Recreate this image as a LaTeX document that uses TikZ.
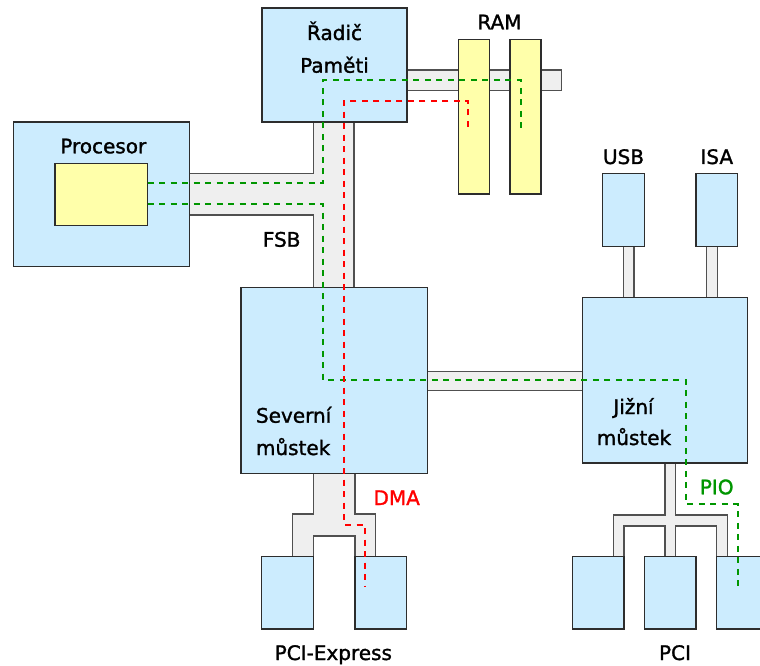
\documentclass[tikz,border=0pt]{standalone}
\usepackage{fontspec}
\setmainfont{DejaVu Sans}[FakeBold=1.4]
\definecolor{boxblue}{RGB}{204,236,254}
\definecolor{busgray}{RGB}{239,239,239}
\definecolor{chipyellow}{RGB}{255,255,170}
\definecolor{edgedark}{RGB}{45,45,45}
\definecolor{busedge}{RGB}{80,80,80}
\definecolor{piogreen}{RGB}{0,150,0}
\definecolor{dmared}{RGB}{255,0,0}
\tikzset{
  unit/.style={draw=edgedark, fill=boxblue, line width=1.4pt, inner sep=0pt, outer sep=0pt},
  chip/.style={draw=edgedark, fill=chipyellow, line width=1.4pt, inner sep=0pt, outer sep=0pt},
  bus/.style={draw=busedge, fill=busgray, line width=1.1pt, line join=miter},
  lbl/.style={inner sep=0pt, outer sep=0pt, font=\fontsize{20}{24}\selectfont},
  flow/.style={line width=2pt, dash pattern=on 6pt off 5.5pt},
}
\begin{document}
\begin{tikzpicture}[x=1pt, y=-1pt]
\clip (0,0) rectangle (760,666);
\fill[white] (0,0) rectangle (760,666);

% ---- buses (drawn first, units sit on top) ----
% FSB: CPU -> memory controller -> north bridge
\draw[bus] (313.3,122) -- (354,122) -- (354,287.3) -- (313.3,287.3)
  -- (313.3,215) -- (189.3,215) -- (189.3,173.3) -- (313.3,173.3) -- cycle;
% memory bus
\draw[bus] (407,70) rectangle (561.7,90.7);
% north bridge <-> south bridge
\draw[bus] (427.3,371.7) rectangle (582.3,390.7);
% USB and ISA links
\draw[bus] (623.3,246.7) rectangle (634,297.5);
\draw[bus] (706.7,246.7) rectangle (717.3,297.5);
% PCI-Express fork
\draw[bus] (313.3,473.3) -- (313.3,514) -- (292.7,514) -- (292.7,556.7)
  -- (313.3,556.7) -- (313.3,536) -- (355,536) -- (355,556.7)
  -- (375.7,556.7) -- (375.7,514) -- (355,514) -- (355,473.3) -- cycle;
% PCI fork
\draw[bus] (665,462.8) -- (665,515) -- (613.3,515) -- (613.3,556.7)
  -- (624,556.7) -- (624,526) -- (665,526) -- (665,556.7)
  -- (675.7,556.7) -- (675.7,526) -- (716.7,526) -- (716.7,556.7)
  -- (727.3,556.7) -- (727.3,515) -- (675.7,515) -- (675.7,462.8) -- cycle;

% ---- units ----
\node[unit, minimum width=145pt, minimum height=114pt] (mc) at (334.5,65) {};
\node[chip, minimum width=31pt, minimum height=154.7pt] (ram1) at (473.8,116.7) {};
\node[chip, minimum width=31pt, minimum height=154.7pt] (ram2) at (525.5,116.7) {};
\node[unit, minimum width=176pt, minimum height=144.7pt] (cpu) at (101.3,194.3) {};
\node[chip, minimum width=92.7pt, minimum height=62pt] (core) at (101.3,194.3) {};
\node[unit, minimum width=186.3pt, minimum height=186pt] (nb) at (334.2,380.3) {};
\node[unit, minimum width=165.4pt, minimum height=165.3pt] (sb) at (665,380.2) {};
\node[unit, minimum width=41.6pt, minimum height=73.4pt] (usb) at (623.5,210) {};
\node[unit, minimum width=41.6pt, minimum height=73.4pt] (isa) at (716.8,210) {};
\node[unit, minimum width=51.6pt, minimum height=72.3pt] (pcie1) at (287.5,592.85) {};
\node[unit, minimum width=51.6pt, minimum height=72.3pt] (pcie2) at (380.85,592.85) {};
\node[unit, minimum width=51.7pt, minimum height=72.3pt] (pci1) at (598.15,592.85) {};
\node[unit, minimum width=51.7pt, minimum height=72.3pt] (pci2) at (670.15,592.85) {};
\node[unit, minimum width=51.7pt, minimum height=72.3pt] (pci3) at (742.55,592.85) {};

% ---- labels ----
\node[lbl, anchor=base] (mcA) at (334.5,40) {Řadič};
\node[lbl, anchor=base] (mcB) at (334.5,72.7) {Paměti};
\node[lbl, anchor=base] (ramL) at (499.5,29.3) {RAM};
\node[lbl, anchor=base] (cpuL) at (103.3,153.3) {Procesor};
\node[lbl, anchor=base] (fsbL) at (281.7,246.7) {FSB};
\node[lbl, anchor=base] (usbL) at (623.5,164) {USB};
\node[lbl, anchor=base] (isaL) at (716.8,164) {ISA};
\node[lbl, anchor=base west] (nbA) at (256,422.7) {Severní};
\node[lbl, anchor=base west] (nbB) at (256,455) {můstek};
\node[lbl, anchor=base] (sbA) at (633.5,414) {Jižní};
\node[lbl, anchor=base] (sbB) at (634,445) {můstek};
\node[lbl, anchor=base, text=dmared] (dmaL) at (396.7,505) {DMA};
\node[lbl, anchor=base, text=piogreen] (pioL) at (716.7,494.3) {PIO};
\node[lbl, anchor=base] (pcieL) at (333.3,660) {PCI-Express};
\node[lbl, anchor=base] (pciL) at (675,660) {PCI};

% ---- data paths ----
\coordinate (cpuOutA) at (core.east |- 0,182.7);
\coordinate (cpuOutB) at (core.east |- 0,204.3);
\coordinate (ramEndG) at (520.7,131.7);
\coordinate (ramEndR) at (468.3,126.7);
\coordinate (pcieEnd) at (365,586.7);
\coordinate (pciEnd) at (737.7,586.7);
% CPU <-> RAM
\draw[flow, piogreen] (cpuOutA) -- (323.3,182.7) -- (323.3,80.3) -- (ramEndG |- 0,80.3) -- (ramEndG);
% programmed I/O: CPU -> PCI card
\draw[flow, piogreen] (cpuOutB) -- (323.3,204.3) -- (323.3,380) -- (686,380)
  -- (686,504) -- (pciEnd |- 0,504) -- (pciEnd);
% DMA: PCI-Express card -> RAM
\draw[flow, dmared] (ramEndR) -- (ramEndR |- 0,100.7) -- (344.3,100.7) -- (344.3,525)
  -- (pcieEnd |- 0,525) -- (pcieEnd);
\end{tikzpicture}
\end{document}
